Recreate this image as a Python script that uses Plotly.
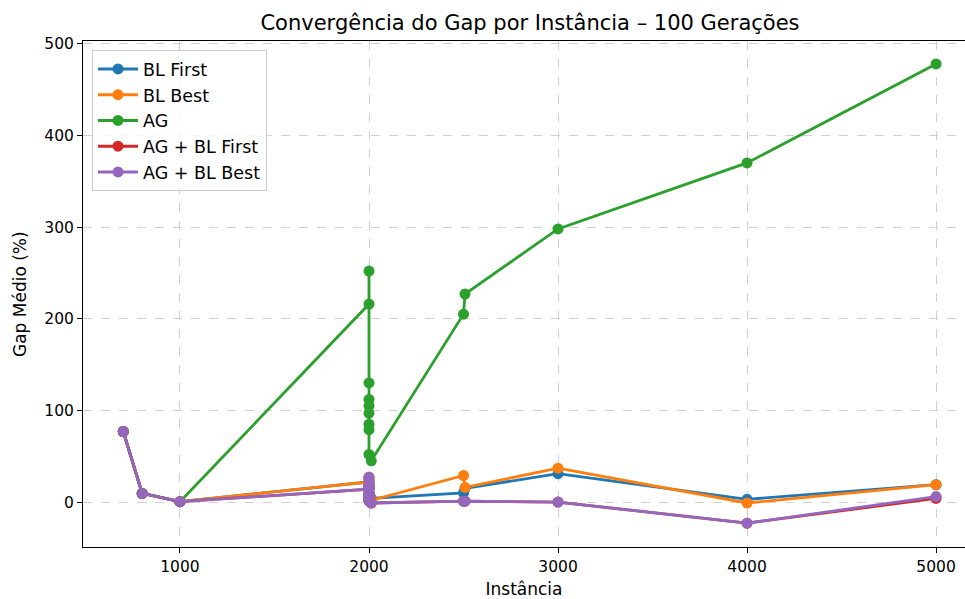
import plotly.graph_objects as go

instancias = [700, 800, 1000,
              2000, 2000, 2000, 2000, 2000, 2000, 2000, 2000, 2000, 2012,
              2500, 2508, 3000, 4000, 5000]

bl_first = [77, 9.5, 0.5, 22, 24, 17, 15, 10, 8, 6, 4, 3, 4, 10, 15, 31, 3, 19]
bl_best = [77, 9.5, 0.5, 22, 25, 18, 15, 10, 8, 6, 4, 3, 2, 29, 16, 37, -1, 19]
ag = [77, 9.5, 0.5, 216, 252, 130, 112, 105, 97, 85, 79, 52, 45, 205, 227, 298, 370, 478]
ag_bl_first = [77, 9.5, 0.5, 14, 27, 20, 18, 10, 8, 5, 3, 1, -1, 1, 1, 0, -23, 4]
ag_bl_best = [77, 9.5, 0.5, 14, 27, 20, 18, 10, 8, 5, 3, 1, -1, 1, 1, 0, -23, 6]

series = [
    ("BL First", bl_first, "#1f77b4"),
    ("BL Best", bl_best, "#ff7f0e"),
    ("AG", ag, "#2ca02c"),
    ("AG + BL First", ag_bl_first, "#d62728"),
    ("AG + BL Best", ag_bl_best, "#9467bd"),
]

x_ticks = [1000, 2000, 3000, 4000, 5000]
y_ticks = [0, 100, 200, 300, 400, 500]

fig = go.Figure()
for i, (name, vals, color) in enumerate(series):
    fig.add_trace(go.Scatter(
        x=instancias, y=vals, name=name, mode="lines+markers",
        legendgroup=f"g{i}",
        line=dict(color=color, width=2.8),
        marker=dict(color=color, size=11),
    ))

font_family = "DejaVu Sans"
fig.update_layout(
    width=965, height=599,
    margin=dict(l=83, r=0, t=41, b=52),
    paper_bgcolor="white", plot_bgcolor="white",
    font=dict(family=font_family, size=14, color="black"),
    title=dict(text="Convergência do Gap por Instância – 100 Gerações",
               x=530 / 965, xanchor="center", y=1 - 23 / 599, yanchor="middle",
               font=dict(size=21, family=font_family)),
    legend=dict(x=0.0102, y=0.982, xanchor="left", yanchor="top",
                bgcolor="rgba(255,255,255,0.8)", bordercolor="#cccccc", borderwidth=1,
                font=dict(size=17.5, family=font_family), tracegroupgap=0,
                itemwidth=40),
    showlegend=True,
    annotations=[dict(text="Gap Médio (%)", xref="paper", yref="paper",
                      x=(20 - 83) / 882, y=0.5, xanchor="center", yanchor="middle",
                      textangle=-90, showarrow=False,
                      font=dict(size=17, family=font_family, color="black"))],
)
fig.update_xaxes(
    range=[487, 5153], tickvals=x_ticks, ticks="outside", ticklen=5, tickcolor="black",
    showline=True, linecolor="black", linewidth=1, mirror=True,
    showgrid=True, gridcolor="#d0d0d0", griddash="dash", gridwidth=1,
    zeroline=False, title=dict(text="Instância", standoff=11, font=dict(size=17)),
    tickfont=dict(size=15.5),
)
fig.update_yaxes(
    range=[-49, 503], tickvals=y_ticks, ticks="outside", ticklen=5, tickcolor="black",
    showline=True, linecolor="black", linewidth=1, mirror=False,
    showgrid=True, gridcolor="#d0d0d0", griddash="dash", gridwidth=1,
    zeroline=False,
    tickfont=dict(size=15.5),
)
fig.write_html("out.html")
